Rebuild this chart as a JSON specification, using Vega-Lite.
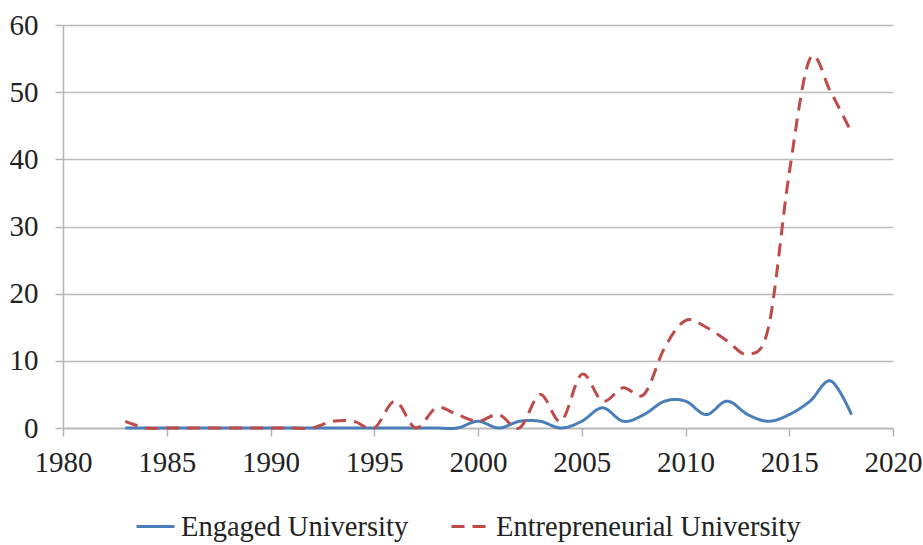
{
  "$schema": "https://vega.github.io/schema/vega-lite/v6.json",
  "width": 830,
  "height": 403,
  "autosize": "none",
  "padding": {"left": 63, "top": 25, "right": 30, "bottom": 117},
  "background": "white",
  "config": {
    "view": {"stroke": null},
    "font": "'Liberation Serif', 'DejaVu Serif', serif",
    "axis": {"labelFont": "'Liberation Serif', 'DejaVu Serif', serif", "labelFontSize": 29, "labelColor": "#222", "domainColor": "#b5b5b5", "tickColor": "#b5b5b5", "gridColor": "#bdbdbd", "domainWidth": 1.5, "tickWidth": 1.5, "gridWidth": 1.5},
    "legend": {"labelFont": "'Liberation Serif', 'DejaVu Serif', serif", "labelFontSize": 28.5, "labelColor": "#222", "labelLimit": 500}
  },
  "data": {
    "values": [
      {"year": 1983, "series": "Engaged University", "value": 0},
      {"year": 1984, "series": "Engaged University", "value": 0},
      {"year": 1985, "series": "Engaged University", "value": 0},
      {"year": 1986, "series": "Engaged University", "value": 0},
      {"year": 1987, "series": "Engaged University", "value": 0},
      {"year": 1988, "series": "Engaged University", "value": 0},
      {"year": 1989, "series": "Engaged University", "value": 0},
      {"year": 1990, "series": "Engaged University", "value": 0},
      {"year": 1991, "series": "Engaged University", "value": 0},
      {"year": 1992, "series": "Engaged University", "value": 0},
      {"year": 1993, "series": "Engaged University", "value": 0},
      {"year": 1994, "series": "Engaged University", "value": 0},
      {"year": 1995, "series": "Engaged University", "value": 0},
      {"year": 1996, "series": "Engaged University", "value": 0},
      {"year": 1997, "series": "Engaged University", "value": 0},
      {"year": 1998, "series": "Engaged University", "value": 0},
      {"year": 1999, "series": "Engaged University", "value": 0},
      {"year": 2000, "series": "Engaged University", "value": 1},
      {"year": 2001, "series": "Engaged University", "value": 0},
      {"year": 2002, "series": "Engaged University", "value": 1},
      {"year": 2003, "series": "Engaged University", "value": 1},
      {"year": 2004, "series": "Engaged University", "value": 0},
      {"year": 2005, "series": "Engaged University", "value": 1},
      {"year": 2006, "series": "Engaged University", "value": 3},
      {"year": 2007, "series": "Engaged University", "value": 1},
      {"year": 2008, "series": "Engaged University", "value": 2},
      {"year": 2009, "series": "Engaged University", "value": 4},
      {"year": 2010, "series": "Engaged University", "value": 4},
      {"year": 2011, "series": "Engaged University", "value": 2},
      {"year": 2012, "series": "Engaged University", "value": 4},
      {"year": 2013, "series": "Engaged University", "value": 2},
      {"year": 2014, "series": "Engaged University", "value": 1},
      {"year": 2015, "series": "Engaged University", "value": 2},
      {"year": 2016, "series": "Engaged University", "value": 4},
      {"year": 2017, "series": "Engaged University", "value": 7},
      {"year": 2018, "series": "Engaged University", "value": 2},
      {"year": 1983, "series": "Entrepreneurial University", "value": 1},
      {"year": 1984, "series": "Entrepreneurial University", "value": 0},
      {"year": 1985, "series": "Entrepreneurial University", "value": 0},
      {"year": 1986, "series": "Entrepreneurial University", "value": 0},
      {"year": 1987, "series": "Entrepreneurial University", "value": 0},
      {"year": 1988, "series": "Entrepreneurial University", "value": 0},
      {"year": 1989, "series": "Entrepreneurial University", "value": 0},
      {"year": 1990, "series": "Entrepreneurial University", "value": 0},
      {"year": 1991, "series": "Entrepreneurial University", "value": 0},
      {"year": 1992, "series": "Entrepreneurial University", "value": 0},
      {"year": 1993, "series": "Entrepreneurial University", "value": 1},
      {"year": 1994, "series": "Entrepreneurial University", "value": 1},
      {"year": 1995, "series": "Entrepreneurial University", "value": 0},
      {"year": 1996, "series": "Entrepreneurial University", "value": 4},
      {"year": 1997, "series": "Entrepreneurial University", "value": 0},
      {"year": 1998, "series": "Entrepreneurial University", "value": 3},
      {"year": 1999, "series": "Entrepreneurial University", "value": 2},
      {"year": 2000, "series": "Entrepreneurial University", "value": 1},
      {"year": 2001, "series": "Entrepreneurial University", "value": 2},
      {"year": 2002, "series": "Entrepreneurial University", "value": 0},
      {"year": 2003, "series": "Entrepreneurial University", "value": 5},
      {"year": 2004, "series": "Entrepreneurial University", "value": 1},
      {"year": 2005, "series": "Entrepreneurial University", "value": 8},
      {"year": 2006, "series": "Entrepreneurial University", "value": 4},
      {"year": 2007, "series": "Entrepreneurial University", "value": 6},
      {"year": 2008, "series": "Entrepreneurial University", "value": 5},
      {"year": 2009, "series": "Entrepreneurial University", "value": 12},
      {"year": 2010, "series": "Entrepreneurial University", "value": 16},
      {"year": 2011, "series": "Entrepreneurial University", "value": 15},
      {"year": 2012, "series": "Entrepreneurial University", "value": 13},
      {"year": 2013, "series": "Entrepreneurial University", "value": 11},
      {"year": 2014, "series": "Entrepreneurial University", "value": 15},
      {"year": 2015, "series": "Entrepreneurial University", "value": 38},
      {"year": 2016, "series": "Entrepreneurial University", "value": 55},
      {"year": 2017, "series": "Entrepreneurial University", "value": 50},
      {"year": 2018, "series": "Entrepreneurial University", "value": 44}
    ]
  },
  "mark": {"type": "line", "interpolate": "cardinal", "strokeWidth": 3},
  "encoding": {
    "x": {
      "field": "year", "type": "quantitative",
      "scale": {"domain": [1980, 2020], "nice": false, "zero": false},
      "axis": {"title": null, "values": [1980, 1985, 1990, 1995, 2000, 2005, 2010, 2015, 2020], "format": "d", "grid": false, "tickSize": 8, "labelPadding": 12, "labelFlush": false, "labelOverlap": false}
    },
    "y": {
      "field": "value", "type": "quantitative",
      "scale": {"domain": [0, 60], "nice": false},
      "axis": {"title": null, "values": [0, 10, 20, 30, 40, 50, 60], "tickSize": 8, "labelPadding": 17, "grid": true}
    },
    "color": {
      "field": "series", "type": "nominal",
      "scale": {"domain": ["Engaged University", "Entrepreneurial University"], "range": ["#4a7ebb", "#be4b48"]},
      "legend": {"title": null, "orient": "none", "direction": "horizontal", "legendX": 72, "legendY": 481, "symbolType": "stroke", "symbolSize": 1444, "symbolStrokeWidth": 3, "labelOffset": 5, "columnPadding": 36}
    },
    "strokeDash": {
      "field": "series", "type": "nominal",
      "scale": {"domain": ["Engaged University", "Entrepreneurial University"], "range": [[1, 0], [13, 8]]},
      "legend": {"title": null, "orient": "none", "direction": "horizontal", "legendX": 72, "legendY": 481, "symbolType": "stroke", "symbolSize": 1444, "symbolStrokeWidth": 3, "labelOffset": 5, "columnPadding": 36}
    }
  }
}
